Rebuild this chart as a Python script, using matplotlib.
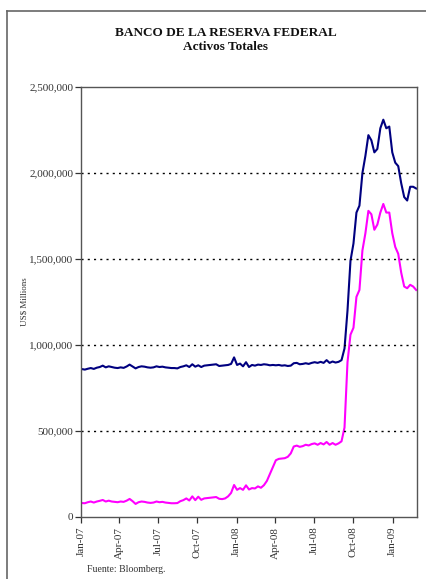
import numpy as np
import pandas as pd
import matplotlib
matplotlib.use("Agg")
import matplotlib.pyplot as plt
import matplotlib.dates as mdates
from matplotlib.lines import Line2D

# weekly data, US$ thousands of millions
dates = pd.date_range("2007-01-03", periods=113, freq="7D")

total_k = [860, 857, 862, 866, 861, 868, 872, 880, 870, 876,
           872, 868, 866, 870, 867, 875, 886, 875, 864, 872,
           876, 874, 870, 868, 870, 876, 872, 874, 870, 868,
           866, 866, 864, 872, 876, 882, 872, 888, 874, 882,
           872, 880, 882, 884, 886, 888, 878, 880, 882, 884,
           890, 928, 884, 892, 876, 900, 872, 884, 880, 886,
           884, 888, 886, 882, 884, 882, 884, 880, 882, 878,
           880, 894, 896, 888, 890, 894, 890, 896, 900, 896,
           902, 896, 912, 896, 904, 898, 902, 912, 980, 1200,
           1490, 1590, 1770, 1810, 2000, 2100, 2220, 2190, 2120, 2140,
           2260, 2310, 2260, 2270, 2120, 2060, 2040, 1940, 1860, 1840,
           1920, 1920, 1910]

other_k = [81, 80, 86, 90, 84, 90, 94, 99, 90, 95,
           90, 88, 86, 90, 88, 95, 105, 92, 76, 86,
           90, 88, 84, 82, 84, 90, 86, 88, 84, 82,
           80, 80, 81, 92, 98, 108, 96, 120, 98, 118,
           100, 108, 110, 112, 114, 116, 106, 104, 108, 120,
           140, 186, 158, 168, 158, 184, 160, 168, 166, 178,
           170, 185, 210, 250, 290, 330, 338, 340, 342, 350,
           370, 410, 415, 408, 412, 420, 416, 424, 428, 420,
           430, 422, 436, 420, 430, 420, 428, 440, 520, 900,
           1060, 1100, 1280, 1320, 1550, 1650, 1780, 1760, 1670, 1700,
           1770, 1820, 1770, 1770, 1650, 1570, 1530, 1420, 1340, 1330,
           1350, 1340, 1320]

total = np.array(total_k) * 1000
other = np.array(other_k) * 1000

serif = ["Liberation Serif", "DejaVu Serif"]
plt.rcParams["font.family"] = serif

fig = plt.figure(figsize=(4.27, 5.79), dpi=100)
ax = fig.add_axes([81 / 427, 1 - 517 / 579, (417 - 81) / 427, (517 - 87) / 579])

ax.plot(dates, total, color="#000080", lw=1.5)
ax.plot(dates, other, color="#ff00ff", lw=1.5)

ax.set_ylim(0, 2500000)
ax.set_yticks(np.arange(0, 2500001, 500000))
ax.yaxis.set_major_formatter(matplotlib.ticker.FuncFormatter(lambda v, p: f"{int(v):,}"))
for v in [500000, 1000000, 1500000, 2000000]:
    ax.axhline(v, color="black", lw=1.0, ls=(0, (1.5, 3)))

ax.set_xlim(pd.Timestamp("2007-01-01"), pd.Timestamp("2009-02-27"))
ax.xaxis.set_major_locator(mdates.MonthLocator(bymonth=[1, 4, 7, 10]))
ax.xaxis.set_major_formatter(mdates.DateFormatter("%b-%y"))
plt.setp(ax.get_xticklabels(), rotation=90, ha="center", va="top")

ax.tick_params(axis="both", labelsize=8, colors="#333333", length=4, width=0.9, direction="out")
ax.tick_params(axis="y", pad=1.5)
ax.tick_params(axis="x", pad=3)
for s in ax.spines.values():
    s.set_color("#555555")
    s.set_linewidth(1.0)

ax.set_ylabel("US$ Millions", fontsize=6.5, color="#333333", labelpad=0.5)

fig.text(226 / 427, 1 - 33 / 579, "BANCO DE LA RESERVA FEDERAL", ha="center", va="center",
         fontsize=9.5, fontweight="bold", color="#111111")
fig.text(226 / 427, 1 - 47 / 579, "Activos Totales", ha="center", va="center",
         fontsize=9.5, fontweight="bold", color="#111111")
fig.text(87 / 427, 1 - 569 / 579, "Fuente: Bloomberg.", ha="left", va="center",
         fontsize=7, color="#333333")

# outer frame (left and top edges visible)
fig.add_artist(Line2D([7 / 427, 7 / 427], [0, 1 - 11 / 579], transform=fig.transFigure,
                      color="#666666", lw=1.2))
fig.add_artist(Line2D([7 / 427, 1], [1 - 11 / 579, 1 - 11 / 579], transform=fig.transFigure,
                      color="#666666", lw=1.2))

fig.savefig("out.png", dpi=100)
